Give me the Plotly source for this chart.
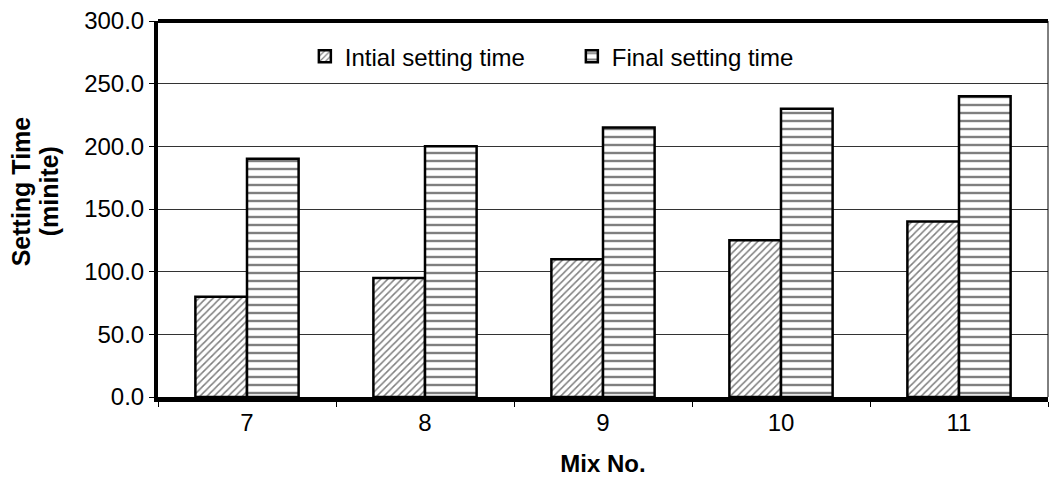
import plotly.graph_objects as go

mix_no = ["7", "8", "9", "10", "11"]
initial_setting = [80, 95, 110, 125, 140]
final_setting = [190, 200, 215, 230, 240]
y_ticks = [0, 50, 100, 150, 200, 250, 300]
y_tick_labels = ["0.0", "50.0", "100.0", "150.0", "200.0", "250.0", "300.0"]
y_title_lines = ["Setting Time", "(minite)"]

FONT = "Liberation Sans, Arial, sans-serif"

fig = go.Figure()
fig.add_trace(go.Bar(
    x=mix_no, y=initial_setting, name="Intial setting time",
    marker=dict(color="white", line=dict(color="black", width=2.5),
                pattern=dict(shape="/", fgcolor="black", bgcolor="white",
                             size=5, solidity=0.3)),
))
fig.add_trace(go.Bar(
    x=mix_no, y=final_setting, name="Final setting time",
    marker=dict(color="white", line=dict(color="black", width=2.5),
                pattern=dict(shape="-", fgcolor="black", bgcolor="white",
                             size=8, solidity=0.3)),
))

annotations = []
for i, line in enumerate(y_title_lines):
    annotations.append(dict(
        text=f"<b>{line}</b>", textangle=-90, showarrow=False,
        xref="paper", yref="paper", x=0, y=0.547,
        xanchor="center", yanchor="middle",
        xshift=-137 + 28 * i,
        font=dict(size=25, family=FONT, color="black"),
    ))

fig.update_layout(
    width=1049, height=489,
    margin=dict(l=158, r=1, t=21, b=92),
    paper_bgcolor="white", plot_bgcolor="white",
    barmode="group", bargap=0.42, bargroupgap=0,
    font=dict(family=FONT, size=24, color="black"),
    showlegend=True,
    legend=dict(orientation="h", x=0.165, y=0.905, xanchor="left", yanchor="middle",
                bgcolor="rgba(0,0,0,0)", font=dict(size=24),
                entrywidth=222, entrywidthmode="pixels", itemwidth=30,
                traceorder="normal"),
    xaxis=dict(
        type="category", tickson="boundaries", ticks="outside", ticklen=5,
        tickwidth=1, tickcolor="black",
        showline=True, linecolor="black", linewidth=5,
        showgrid=False, tickfont=dict(size=24),
        title=dict(text="<b>Mix No.</b>", font=dict(size=24), standoff=22),
    ),
    yaxis=dict(
        range=[0, 300], tickvals=y_ticks, ticktext=y_tick_labels,
        ticks="outside", ticklen=5, tickwidth=1, tickcolor="black",
        showline=True, linecolor="black", linewidth=4,
        showgrid=True, gridcolor="#333333", gridwidth=1,
        zeroline=False, tickfont=dict(size=24),
    ),
    annotations=annotations,
    shapes=[
        dict(type="line", xref="paper", yref="paper", x0=0, x1=1, y0=1, y1=1,
             line=dict(color="black", width=4)),
        dict(type="line", xref="paper", yref="paper", x0=1, x1=1, y0=0, y1=1,
             line=dict(color="black", width=1)),
    ],
)

fig.write_html("out.html")
